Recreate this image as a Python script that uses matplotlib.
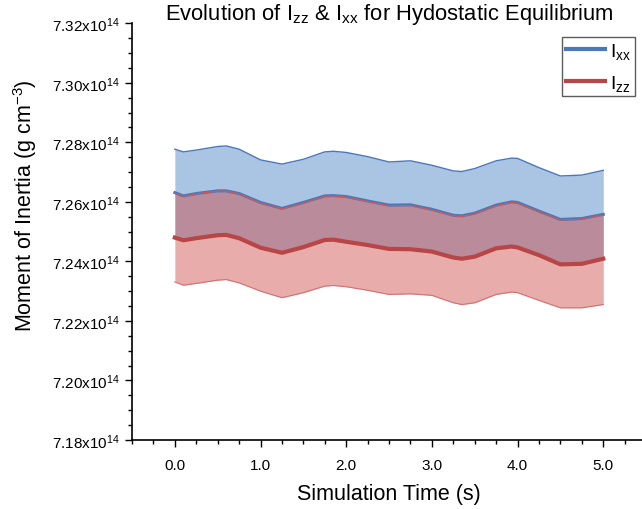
import matplotlib
matplotlib.use("Agg")
import matplotlib.pyplot as plt
from matplotlib.ticker import MultipleLocator, FuncFormatter

plt.rcParams["font.family"] = ["Liberation Sans", "DejaVu Sans"]
plt.rcParams["mathtext.fontset"] = "custom"
plt.rcParams["mathtext.rm"] = "Liberation Sans"
plt.rcParams["mathtext.it"] = "Liberation Sans:italic"

# simulation time (s)
time = [0, 0.1, 0.25, 0.5, 0.6, 0.75, 1.0, 1.25, 1.5, 1.75, 1.85, 2.0, 2.25,
        2.5, 2.75, 3.0, 3.25, 3.35, 3.5, 3.75, 3.93, 4.0, 4.25, 4.5, 4.75, 5.0]

# moment of inertia, units of 1e14
ixx_mean = [7.2631, 7.2620, 7.2628, 7.2637, 7.2637, 7.2628, 7.2598, 7.2578, 7.2598,
            7.2620, 7.2621, 7.2618, 7.2603, 7.2589, 7.2590, 7.2575, 7.2555, 7.2553,
            7.2562, 7.2589, 7.2600, 7.2598, 7.2569, 7.2541, 7.2544, 7.2558]
ixx_upper = [7.2777, 7.2768, 7.2774, 7.2786, 7.2788, 7.2777, 7.2741, 7.2727, 7.2743,
             7.2768, 7.2770, 7.2766, 7.2752, 7.2734, 7.2738, 7.2723, 7.2704, 7.2702,
             7.2712, 7.2738, 7.2747, 7.2746, 7.2715, 7.2687, 7.2690, 7.2706]
ixx_lower = [7.2482, 7.2472, 7.2480, 7.2489, 7.2490, 7.2480, 7.2448, 7.2430, 7.2450,
             7.2473, 7.2474, 7.2468, 7.2456, 7.2443, 7.2442, 7.2434, 7.2414, 7.2410,
             7.2418, 7.2445, 7.2451, 7.2448, 7.2422, 7.2392, 7.2394, 7.2410]

izz_mean = [7.2480, 7.2471, 7.2478, 7.2488, 7.2489, 7.2478, 7.2446, 7.2429, 7.2448,
            7.2472, 7.2473, 7.2466, 7.2455, 7.2442, 7.2441, 7.2433, 7.2413, 7.2409,
            7.2416, 7.2444, 7.2450, 7.2447, 7.2421, 7.2390, 7.2392, 7.2409]
izz_upper = [7.2629, 7.2619, 7.2627, 7.2636, 7.2636, 7.2627, 7.2596, 7.2576, 7.2596,
             7.2619, 7.2620, 7.2616, 7.2601, 7.2587, 7.2588, 7.2573, 7.2553, 7.2551,
             7.2560, 7.2587, 7.2598, 7.2596, 7.2567, 7.2539, 7.2542, 7.2556]
izz_lower = [7.2331, 7.2320, 7.2326, 7.2337, 7.2339, 7.2328, 7.2300, 7.2278, 7.2295,
             7.2317, 7.2319, 7.2315, 7.2303, 7.2289, 7.2291, 7.2286, 7.2261, 7.2255,
             7.2261, 7.2289, 7.2297, 7.2295, 7.2269, 7.2244, 7.2244, 7.2255]

BLUE = "#4a78b8"
RED = "#b84646"

fig = plt.figure(figsize=(6.42, 5.10), dpi=100)
ax = fig.add_axes([0.2056, 0.1353, 0.8008, 0.8171])

# bands
ax.fill_between(time, ixx_lower, ixx_upper, color="#437cc4", alpha=0.45, lw=0)
ax.plot(time, ixx_upper, color=BLUE, lw=1.0)
ax.fill_between(time, izz_lower, izz_upper, color="#cc4743", alpha=0.45, lw=0)
ax.plot(time, izz_lower, color="#d47070", lw=0.8)

# means
ax.plot(time, ixx_mean, color=BLUE, lw=2.2, label=r"I$_{\mathrm{xx}}$")
ax.plot(time, izz_upper, color="#cc5a5a", lw=0.9)
ax.plot(time, izz_mean, color=RED, lw=3.0, label=r"I$_{\mathrm{zz}}$")

ax.set_xlim(-0.5, 5.5)
ax.set_ylim(7.18, 7.32)
ax.xaxis.set_major_locator(MultipleLocator(1.0))
ax.xaxis.set_minor_locator(MultipleLocator(0.25))
ax.yaxis.set_major_locator(MultipleLocator(0.02))
ax.yaxis.set_minor_locator(MultipleLocator(0.005))
ax.xaxis.set_major_formatter(FuncFormatter(lambda v, p: f"{v:.1f}"))
ax.yaxis.set_major_formatter(FuncFormatter(lambda v, p: f"{v:.2f}x10$^{{14}}$"))
ax.tick_params(which="major", direction="out", length=5, width=1.0, labelsize=11)
ax.tick_params(which="minor", direction="out", length=3, width=1.0)
ax.tick_params(axis="x", pad=8)

for side in ["top", "right"]:
    ax.spines[side].set_visible(False)
for side in ["left", "bottom"]:
    ax.spines[side].set_linewidth(1.2)

ax.set_xlabel("Simulation Time (s)", fontsize=15.5, labelpad=8)
ax.set_ylabel("Moment of Inertia (g cm$^{-3}$)", fontsize=15.5)
ax.yaxis.set_label_coords(-0.181, 0.564)

# title placed by its baseline, just touching the top of the axes
fig.text(0.606, 1 - 20 / 510,
         r"Evolution of I$_{\mathrm{zz}}$ & I$_{\mathrm{xx}}$ for Hydostatic Equilibrium",
         fontsize=15.8, ha="center", va="baseline")

# legend lines drawn thick, as in the original
leg = ax.legend(loc="upper left", bbox_to_anchor=(0.8366, 0.967), fontsize=14,
                frameon=True, fancybox=False, edgecolor="#333333",
                handlelength=2.0, handletextpad=0.25, borderpad=0.2,
                labelspacing=0.6, borderaxespad=0)
leg.get_frame().set_linewidth(1.0)
for line in leg.get_lines():
    line.set_linewidth(3.0)

fig.savefig("out.png", dpi=100, facecolor="white")
